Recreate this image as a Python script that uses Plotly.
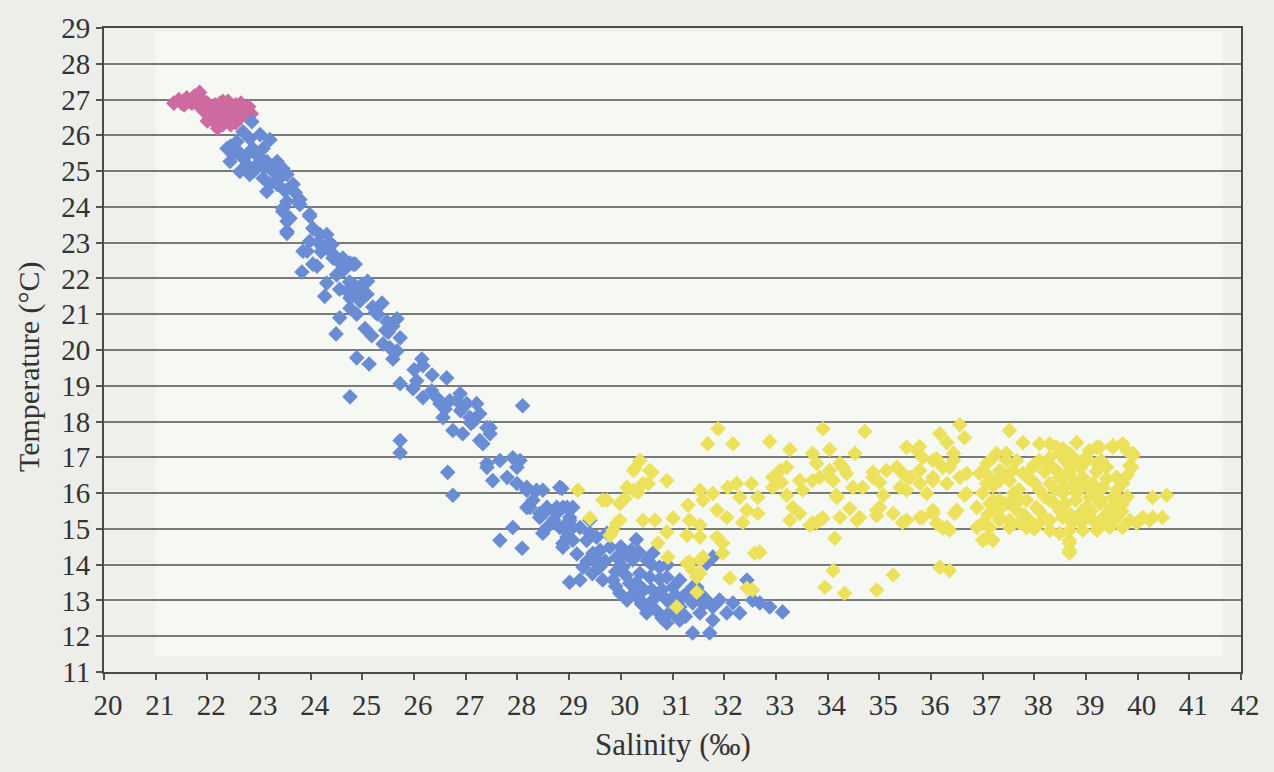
import plotly.graph_objects as go

# ---------------- data (salinity ‰, temperature °C) ----------------
pink_x = [21.35, 21.45, 21.55, 21.6, 21.7, 21.75, 21.85, 21.9, 21.85, 21.95, 22.0, 22.05, 22.1, 22.15,
          22.2, 22.2, 22.3, 22.35, 22.4, 22.45, 22.5, 22.55, 22.6, 22.65, 22.7, 22.75, 22.8, 22.85,
          22.45, 22.0, 21.8, 22.25,
          21.5, 21.65, 21.8, 22.0, 22.1, 22.25, 22.3, 22.35, 22.5, 22.6, 22.7, 22.55, 22.4, 22.15, 22.3]
pink_y = [26.9, 27.0, 26.85, 27.05, 26.9, 27.1, 27.2, 27.0, 26.8, 26.65, 26.9, 26.5, 26.75, 26.35,
          26.55, 26.2, 26.7, 26.45, 26.95, 26.75, 26.5, 26.85, 26.65, 26.9, 26.75, 26.55, 26.8, 26.6,
          26.3, 26.4, 26.95, 26.9,
          26.9, 26.95, 27.05, 26.75, 26.6, 26.5, 26.3, 26.65, 26.65, 26.45, 26.6, 26.35, 26.85, 26.85, 26.95]

blue_x = [
    22.86, 22.69, 22.38, 22.57, 22.82, 23.02, 23.21, 23.08, 22.82, 22.5, 22.44, 22.77, 22.63, 22.82,
    22.96, 23.15, 23.35, 23.46, 23.54, 23.27, 23.08, 23.21, 23.15, 23.35, 23.66, 23.54, 23.79, 23.46,
    23.6, 23.54, 23.98, 24.04, 24.18, 23.98, 23.93, 24.31, 24.43, 24.62, 24.82, 24.04,
    23.46, 23.79, 23.54, 23.54, 23.98, 24.31, 24.41, 23.85, 24.12, 23.83, 24.43, 24.56, 24.76, 24.86,
    24.31, 24.27, 24.56, 24.7, 24.76, 24.89, 25.0, 25.1, 25.09, 24.95, 24.76, 24.89, 24.56, 24.49,
    25.38, 25.3, 25.47, 25.67, 25.59, 25.05, 25.18, 25.4, 25.53, 25.73, 25.67, 25.59, 24.89, 25.13,
    26.15, 26.17, 26.63, 25.73, 26.05, 25.98, 26.17, 26.34, 24.76, 26.5, 26.69, 26.89, 26.83, 27.02,
    27.21, 27.27, 27.08, 26.56, 27.47, 26.75, 26.94, 27.27, 25.73, 25.73, 26.65, 26.75, 28.1,
    24.6, 24.75, 24.95,
    27.66, 27.91, 28.05, 27.41, 27.52, 27.8, 27.99, 28.18, 28.49, 28.86, 28.18, 27.91, 27.66, 28.09,
    28.43, 28.57, 28.76, 28.88, 29.01, 28.57, 28.82, 28.96, 29.07, 28.88, 27.41, 27.47, 27.33, 27.99,
    27.41, 28.18, 28.37, 28.24, 28.57, 28.43, 28.49, 28.76, 28.96, 29.07, 28.82, 29.01, 28.88, 29.21,
    29.4, 29.4, 29.01,
    29.27, 29.46, 29.59, 29.79, 29.92, 30.04, 30.23, 30.37, 30.5, 30.62, 30.56, 30.75, 30.89, 31.01,
    31.14, 31.28, 30.17, 29.98, 30.12, 30.37, 30.5, 30.62, 30.89, 31.01, 31.14, 31.39, 31.53, 31.66,
    31.78, 31.78, 31.91, 32.05, 32.17, 32.3, 32.44, 32.55, 32.69, 32.88, 33.13, 31.39, 31.72, 30.89,
    31.14, 31.39, 31.53, 31.78, 31.66, 29.73, 29.53, 29.34, 29.07, 28.88, 29.65, 29.85, 29.21, 31.47,
    29.7, 30.0, 30.2, 30.3, 30.6, 30.8, 30.9, 30.4, 30.7, 31.0, 29.9, 30.1, 30.45, 30.6, 29.6, 29.45,
    30.3, 30.9, 31.2,
    22.95, 23.4, 23.7, 24.15, 24.65, 25.2, 25.5, 26.35, 26.9, 27.15, 29.9, 30.25, 30.75, 30.1, 30.55,
    31.25, 30.8, 29.55, 30.0,
    22.45, 22.6, 22.7, 22.9, 23.0, 23.1, 22.9, 23.25, 23.4, 23.5, 24.2, 24.35, 24.5, 24.85, 25.25,
    25.45, 26.0, 26.45, 26.6, 27.1, 28.3, 28.7, 29.15, 29.35, 30.35, 30.7, 31.05, 31.6]
blue_y = [
    26.38, 26.1, 25.63, 25.82, 25.91, 26.02, 25.88, 25.63, 25.55, 25.46, 25.27, 25.18, 24.99, 24.91,
    25.18, 25.27, 25.27, 25.07, 24.91, 24.99, 24.8, 24.63, 24.43, 24.63, 24.63, 24.15, 24.21, 23.87,
    23.68, 23.32, 23.79, 23.4, 23.23, 23.04, 22.76, 22.95, 22.68, 22.57, 22.4, 22.4,
    23.96, 24.07, 23.6, 23.26, 23.74, 23.23, 22.95, 22.76, 22.34, 22.18, 22.57, 22.43, 22.43, 22.4,
    21.87, 21.5, 21.7, 21.65, 21.45, 21.56, 21.84, 21.92, 21.56, 21.37, 21.17, 21.0, 20.9, 20.45,
    21.31, 21.0, 20.8, 20.87, 20.67, 20.6, 20.4, 20.17, 20.06, 20.34, 19.97, 19.75, 19.78, 19.61,
    19.75, 19.56, 19.22, 19.06, 19.14, 18.92, 18.67, 18.86, 18.69, 18.5, 18.58, 18.78, 18.58, 18.5,
    18.5, 18.22, 18.11, 18.11, 17.83, 17.75, 17.66, 17.47, 17.47, 17.13, 16.58, 15.94, 18.44,
    22.2, 21.9, 21.7,
    16.91, 16.99, 16.91, 16.83, 16.35, 16.44, 16.27, 16.08, 16.08, 16.13, 15.6, 15.04, 14.68, 14.46,
    15.43, 15.6, 15.43, 15.6, 15.32, 15.04, 15.04, 14.77, 15.04, 14.49, 17.83, 17.66, 17.38, 16.72,
    16.72, 16.16, 16.08, 15.6, 15.52, 15.32, 14.88, 15.6, 15.6, 15.6, 16.16, 15.24, 15.04, 15.04,
    14.88, 15.24, 13.51,
    13.93, 14.32, 13.93, 14.49, 14.21, 13.93, 14.13, 13.76, 14.13, 14.32, 13.65, 13.93, 13.65, 13.37,
    13.57, 13.2, 13.48, 13.2, 13.01, 13.01, 12.65, 13.01, 13.01, 12.65, 12.82, 12.93, 12.65, 13.01,
    12.82, 12.45, 13.01, 12.65, 12.93, 12.65, 13.57, 13.01, 12.93, 12.82, 12.68, 12.09, 12.09, 12.37,
    12.45, 13.37, 13.2, 14.21, 14.04, 14.88, 14.77, 14.68, 14.68, 14.6, 13.57, 13.57, 13.57, 13.37,
    14.1, 14.5, 14.4, 13.5, 13.3, 13.3, 14.0, 12.9, 12.7, 12.9, 13.8, 13.7, 13.3, 14.0, 14.4, 13.75,
    14.7, 12.6, 13.1,
    25.45, 25.0, 24.4, 23.0, 22.25, 21.2, 20.5, 19.3, 18.3, 18.0, 13.4, 13.2, 13.6, 14.3, 12.85,
    12.55, 12.5, 14.1, 14.0,
    25.7, 25.55, 25.35, 25.6, 25.4, 25.1, 25.0, 25.1, 24.8, 24.45, 22.75, 22.8, 22.1, 21.8, 21.05,
    20.55, 19.45, 18.65, 18.35, 17.95, 15.8, 15.25, 14.3, 14.1, 14.35, 13.15, 13.15, 12.9]

yellow_x = [
    31.88, 31.68, 32.17, 32.88, 33.27, 33.91, 34.04, 34.53, 34.72, 30.37, 30.27, 30.6, 30.89, 30.53,
    30.12, 30.33, 29.73, 29.98, 30.08, 29.92, 29.79, 30.43, 30.66, 31.01, 31.33, 30.89, 30.72, 30.91,
    31.3, 31.53, 31.78, 31.59, 31.86, 31.28, 31.53, 31.53, 31.86, 31.97, 31.97, 31.33, 31.59, 31.53,
    31.47, 31.08, 32.11, 32.44, 32.55, 32.59, 32.69, 32.07, 32.24, 32.53, 32.3, 32.65, 32.44, 32.65,
    32.05, 32.36, 32.94, 33.08, 33.21, 33.11, 32.94, 33.46, 33.52, 33.21, 33.33, 33.46, 33.27, 33.71,
    33.85, 33.79, 33.85, 33.71, 34.04, 34.24, 34.37, 34.11, 34.17, 34.43, 34.24, 34.57, 34.14, 34.11,
    33.95, 34.33, 34.95, 35.27, 34.88, 35.01, 35.08, 34.95, 35.27, 35.4, 35.53, 35.73, 35.6, 35.79,
    35.4, 35.53, 35.79, 36.04, 36.11, 36.31, 36.17, 36.31, 36.04, 36.36, 36.04, 36.31, 35.92, 36.17,
    36.36, 36.5, 36.44,
    35.78, 36.56, 36.65, 35.84, 36.11, 37.52, 37.78, 38.1, 38.3, 38.55, 38.82, 39.07, 39.27, 39.52,
    39.79, 39.91, 39.85, 40.29, 40.56, 40.23, 40.48, 38.68, 38.68, 37.08, 37.2, 33.66, 33.79, 33.91,
    34.18, 34.62, 34.95, 35.01, 35.45, 35.84, 36.04, 36.23, 36.36, 36.46, 36.65, 36.89, 36.89, 37.0,
    37.2, 37.33, 37.52, 37.85, 37.46, 37.72,
    33.71, 34.04, 34.3, 34.49, 34.68, 34.88, 35.14, 35.34, 35.53, 35.53, 35.78, 36.04, 36.23, 36.44,
    36.56, 36.69, 36.94, 37.08, 37.27, 37.46, 37.58, 37.33, 37.08,
    38.43, 39.21, 39.52, 39.71, 39.91, 39.89, 37.2, 37.46, 37.66, 37.0, 37.14, 37.33, 37.52, 37.78,
    37.97, 38.1, 38.3, 38.49, 38.68, 38.82, 39.01, 39.21, 39.4, 39.59, 39.71,
    38.1, 38.3, 38.49, 38.68, 38.94, 39.13, 39.33, 39.52, 39.71, 38.3, 38.55, 38.82, 39.07, 39.27,
    39.46, 38.04, 37.85, 37.66, 37.52, 37.33, 37.14, 36.69,
    38.3, 38.55, 38.74, 38.94, 39.13, 39.33, 39.59, 39.85, 40.1, 40.29, 38.3, 38.49, 38.68, 38.94,
    39.21, 39.46, 39.71, 39.98, 38.1, 37.91, 37.72, 37.52, 37.33, 37.14, 37.0, 38.68, 38.68,
    38.0, 38.2, 38.4, 38.6, 38.8, 39.0, 39.2, 38.9, 38.5, 38.1, 39.4, 39.6, 38.7, 39.0, 38.0, 39.3,
    39.7, 38.8, 38.45,
    29.17, 29.65, 30.04, 30.25, 30.56, 30.25, 30.43, 29.4, 29.98, 29.85, 31.28, 31.39, 31.53, 31.47,
    38.2, 38.4, 38.6, 38.8, 39.0, 39.1, 39.3, 39.5, 39.6, 39.8, 38.9, 38.3, 38.6, 39.2, 38.2, 38.9,
    39.5, 37.9, 37.7, 38.0, 39.8, 39.0, 38.7, 39.3, 37.0, 37.2, 37.4, 37.6, 37.3, 37.8, 37.1]
yellow_y = [
    17.8, 17.38, 17.38, 17.44, 17.22, 17.8, 17.22, 17.11, 17.72, 16.91, 16.69, 16.58, 16.35, 16.27,
    16.16, 16.02, 15.8, 15.71, 15.85, 15.16, 14.82, 15.24, 15.24, 15.3, 15.24, 14.91, 14.6, 14.21,
    15.66, 16.08, 15.99, 15.8, 15.52, 14.82, 15.1, 14.77, 14.77, 14.6, 14.32, 14.07, 14.21, 13.76,
    13.23, 12.82, 13.62, 13.34, 13.29, 14.32, 14.35, 16.16, 16.27, 16.27, 15.88, 15.88, 15.52, 15.43,
    15.32, 15.18, 16.44, 16.63, 16.72, 16.3, 16.16, 16.35, 16.08, 15.94, 15.6, 15.43, 15.24, 15.16,
    15.24, 16.83, 16.44, 17.11, 16.63, 16.83, 16.55, 16.35, 15.94, 15.57, 15.32, 15.24, 14.74, 13.84,
    13.37, 13.2, 13.29, 13.71, 16.58, 16.3, 15.94, 15.52, 15.43, 16.63, 17.28, 17.19, 16.44, 16.27,
    16.16, 15.24, 15.32, 15.43, 15.16, 15.04, 17.66, 17.41, 16.91, 16.72, 16.44, 16.27, 15.99, 13.93,
    13.84, 15.52, 17.11,
    17.3, 17.91, 17.55, 16.99, 16.96, 17.75, 17.41, 17.38, 17.38, 17.24, 17.41, 17.19, 17.28, 17.33,
    17.19, 17.05, 16.77, 15.88, 15.94, 15.24, 15.32, 14.4, 14.68, 14.74, 14.68, 15.1, 15.18, 15.3,
    15.88, 15.32, 15.37, 15.6, 15.18, 15.32, 15.52, 15.02, 14.96, 15.43, 15.94, 15.6, 15.04, 15.16,
    15.8, 15.24, 15.04, 15.04, 15.71, 15.8,
    16.35, 16.44, 16.72, 16.16, 16.16, 16.44, 16.63, 16.72, 16.44, 16.08, 16.63, 16.35, 16.72, 16.91,
    16.44, 16.55, 16.55, 16.83, 17.11, 16.91, 16.63, 16.35, 16.27,
    17.28, 17.28, 17.28, 17.38, 17.11, 16.72, 16.99, 17.11, 16.91, 16.63, 16.44, 16.63, 16.35, 16.55,
    16.72, 16.91, 16.99, 17.11, 17.11, 16.91, 16.91, 16.83, 16.72, 16.44, 16.27,
    16.08, 16.27, 16.44, 16.55, 16.44, 16.27, 16.16, 15.88, 15.71, 15.8, 15.99, 15.99, 15.88, 15.71,
    15.52, 15.6, 15.8, 15.52, 15.71, 15.8, 15.71, 15.99,
    15.24, 15.32, 15.16, 15.32, 15.24, 15.32, 15.32, 15.24, 15.32, 15.32, 14.96, 14.88, 14.96, 14.96,
    14.96, 15.04, 15.04, 15.16, 15.16, 15.24, 15.16, 15.24, 15.32, 15.04, 14.68, 14.6, 14.32,
    16.3, 16.6, 16.1, 15.7, 16.3, 15.6, 16.0, 16.7, 15.5, 15.5, 16.4, 16.1, 15.4, 15.3, 15.0, 15.1,
    15.5, 15.8, 16.6,
    16.08, 15.8, 15.8, 16.08, 16.63, 16.63, 16.27, 15.3, 15.24, 14.96, 14.04, 13.84, 14.13, 13.65,
    15.9, 15.7, 16.2, 16.1, 16.2, 15.5, 15.8, 15.6, 15.9, 15.9, 15.2, 16.8, 16.9, 16.6, 15.3, 15.45,
    15.2, 16.4, 16.1, 16.8, 16.5, 17.0, 16.7, 16.9, 16.0, 16.2, 16.5, 16.0, 15.5, 15.4, 15.4]

x_ticks = list(range(20, 43))
y_ticks = list(range(11, 30))

PINK = "#cd6a9f"
BLUE = "#6a8cd4"
YELLOW = "#ece15b"
FONT = "Liberation Serif"
INK = "#333333"

fig = go.Figure()
for xs, ys, col in [(pink_x, pink_y, PINK), (blue_x, blue_y, BLUE), (yellow_x, yellow_y, YELLOW)]:
    fig.add_trace(go.Scatter(x=xs, y=ys, mode="markers",
                             marker=dict(symbol="diamond", size=12, color=col, line=dict(width=0)),
                             showlegend=False, hoverinfo="skip"))

# lighter scan region inside plot
fig.add_shape(type="rect", xref="x", yref="y", x0=21.0, x1=41.65, y0=11.45, y1=28.9,
              fillcolor="#f5f8f3", line=dict(width=0), layer="below")

fig.update_layout(
    width=1274, height=772, autosize=False,
    margin=dict(l=104, r=33, t=26, b=100),
    paper_bgcolor="#ededea", plot_bgcolor="#eff1ed",
    xaxis=dict(range=[20, 42], tickvals=x_ticks, ticktext=[str(v) for v in x_ticks],
               ticks="outside", ticklen=6, tickwidth=1.5, tickcolor="#555",
               showline=True, linecolor="#4a4a4a", linewidth=2, mirror=True,
               showgrid=False, zeroline=False, ticklabelshift=4,
               tickfont=dict(family=FONT, size=29, color=INK)),
    yaxis=dict(range=[11, 29], tickvals=y_ticks, ticktext=[str(v) for v in y_ticks],
               ticks="outside", ticklen=6, tickwidth=1.5, tickcolor="#555",
               showline=True, linecolor="#4a4a4a", linewidth=2, mirror=True,
               showgrid=True, gridcolor="#7a7a7a", gridwidth=1.5, zeroline=False,
               tickfont=dict(family=FONT, size=29, color=INK)),
    annotations=[
        dict(text="Salinity (‰)", xref="paper", yref="paper", x=0.5, y=-0.113,
             xanchor="center", yanchor="middle", showarrow=False,
             font=dict(family=FONT, size=31, color=INK)),
        dict(text="Temperature (°C)", xref="paper", yref="paper", x=-0.066, y=0.475,
             xanchor="center", yanchor="middle", showarrow=False, textangle=-90,
             font=dict(family=FONT, size=30, color=INK)),
    ],
)

fig.write_html("out.html")
